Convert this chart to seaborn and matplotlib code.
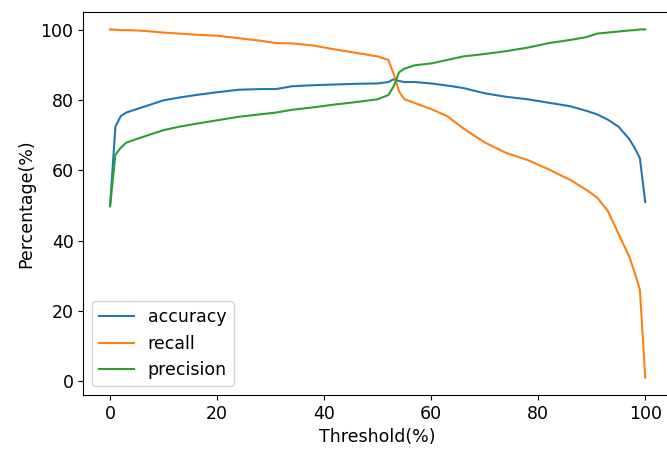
import pandas as pd
import seaborn as sns
import matplotlib
matplotlib.use("Agg")
import matplotlib.pyplot as plt

# threshold values (%) that the curves are sampled at
threshold = [0, 1, 2, 3, 5, 7, 10, 13, 16, 20, 24, 28, 31, 34, 38, 42, 46, 50,
             52, 53, 54, 55, 57, 60, 63, 66, 70, 74, 78, 82, 86, 89, 91, 93,
             95, 97, 98, 99, 100]

accuracy = [50, 72.5, 75.5, 76.5, 77.5, 78.5, 80, 80.8, 81.5, 82.3, 83, 83.2,
            83.2, 84, 84.3, 84.5, 84.7, 84.8, 85.2, 86, 85.5, 85.2, 85.2, 84.8,
            84.2, 83.5, 82, 81, 80.3, 79.3, 78.3, 77, 76, 74.5, 72.5, 69, 66.5,
            63.5, 51]

recall = [100.2, 100.1, 100, 100, 99.9, 99.7, 99.3, 99, 98.7, 98.4, 97.7, 97,
          96.3, 96.2, 95.6, 94.5, 93.5, 92.5, 91.5, 87.5, 82.5, 80.3, 79.2,
          77.5, 75.5, 72, 68, 65, 63, 60.3, 57.3, 54.5, 52.3, 48.5, 42, 35.5,
          31, 26, 1]

precision = [49.8, 64.5, 66.5, 67.9, 69, 70, 71.5, 72.5, 73.3, 74.3, 75.3, 76,
             76.5, 77.3, 78, 78.8, 79.5, 80.3, 81.5, 84, 88, 89, 90, 90.5,
             91.5, 92.5, 93.2, 94, 95, 96.3, 97.2, 98, 99, 99.3, 99.6, 99.9,
             100, 100.2, 100.2]

df = pd.DataFrame({"accuracy": accuracy, "recall": recall,
                   "precision": precision}, index=threshold)

plt.rcParams["font.size"] = 12.5

fig, ax = plt.subplots(figsize=(6.67, 4.51), dpi=100)
# the right edge of the axes runs slightly past the saved picture, as in the original
fig.subplots_adjust(left=0.1249, right=1.0075, bottom=0.1242, top=0.9734)

sns.lineplot(data=df, dashes=False, palette="tab10", linewidth=1.5, ax=ax)

ax.set_xlabel("Threshold(%)")
ax.set_ylabel("Percentage(%)")
ax.set_xticks([0, 20, 40, 60, 80, 100])
ax.set_yticks([0, 20, 40, 60, 80, 100])
ax.legend(loc="lower left")

fig.savefig("out.png", dpi=100)
